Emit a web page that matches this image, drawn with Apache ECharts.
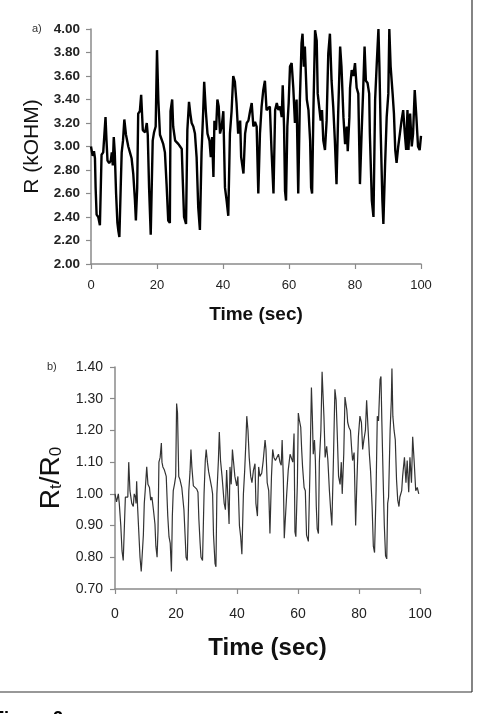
<!DOCTYPE html>
<html>
<head>
<meta charset="utf-8">
<script src="https://cdn.jsdelivr.net/npm/echarts@6/dist/echarts.min.js"></script>
<style>
html,body{margin:0;padding:0;background:#fff;}
#c{width:486px;height:714px;}
</style>
</head>
<body>
<div id="c"></div>
<script>
// ---- Panel a: resistance R (kOHM) vs time (sec) ----
var timeA = [0.0,0.5,0.9,1.2,1.4,1.7,2.2,2.7,3.2,3.7,4.0,4.4,4.7,5.0,5.5,6.0,6.3,6.6,6.9,7.2,7.6,8.0,8.3,8.6,9.0,9.3,9.7,10.1,10.6,11.3,11.8,12.3,12.8,13.3,13.6,14.0,14.3,14.8,15.2,15.7,16.4,16.9,17.2,17.6,18.1,18.7,19.1,19.6,20.0,20.4,20.9,21.9,22.4,22.9,23.4,23.9,24.1,24.6,24.9,25.5,26.5,27.0,27.5,27.8,28.2,28.8,29.2,29.7,30.1,30.5,31.0,31.5,32.0,32.5,33.0,33.5,34.0,34.3,34.8,35.3,35.9,36.3,36.7,37.1,37.4,37.9,38.3,38.7,39.1,39.6,40.1,40.6,41.1,41.6,42.1,42.6,43.1,43.6,44.1,44.6,45.2,45.5,46.2,46.7,47.2,47.7,48.2,48.7,49.2,49.7,50.2,50.7,51.2,51.7,52.2,52.7,53.2,53.7,54.2,54.7,55.3,55.8,56.3,56.8,57.3,57.8,58.1,58.5,58.8,59.1,59.5,59.9,60.3,60.8,61.3,61.8,62.3,62.8,63.3,63.8,64.1,64.5,64.8,65.4,65.9,66.4,66.7,67.0,67.4,67.9,68.4,68.7,69.2,69.6,70.0,70.4,70.9,71.4,71.9,72.4,72.9,73.4,73.9,74.4,74.9,75.5,75.9,76.5,77.0,77.5,77.8,78.3,78.5,79.0,79.5,80.0,80.5,81.0,81.5,82.0,82.5,82.9,83.3,83.8,84.3,84.5,85.1,85.6,86.1,86.6,87.1,87.4,87.8,88.3,88.6,89.1,89.6,90.1,90.4,90.8,91.4,91.8,92.2,92.6,93.1,93.6,94.1,94.6,95.1,95.5,95.9,96.2,96.7,97.2,97.6,98.1,98.6,99.1,99.6,100.0];
var resistanceA = [3.00,2.92,2.96,2.90,2.65,2.42,2.40,2.33,2.93,2.95,2.96,3.25,3.05,2.88,2.86,2.88,2.95,2.84,3.08,2.95,2.60,2.35,2.28,2.23,2.65,2.95,3.05,3.23,3.10,3.00,2.95,2.90,2.77,2.55,2.37,2.65,3.28,3.30,3.44,3.14,3.12,3.20,3.10,2.65,2.25,3.05,3.12,3.17,3.82,3.40,3.10,3.02,2.95,2.68,2.37,2.35,3.30,3.40,3.17,3.05,3.02,3.00,2.98,2.72,2.40,2.34,3.14,3.38,3.28,3.20,3.17,3.11,2.91,2.48,2.29,2.95,3.30,3.55,3.30,3.11,3.05,2.91,3.08,2.74,3.22,3.14,3.40,3.34,3.11,3.17,3.30,2.65,2.54,2.41,3.11,3.30,3.60,3.55,3.37,3.11,3.22,2.91,2.77,3.11,3.20,3.22,3.30,3.37,3.17,3.21,3.17,2.60,3.11,3.34,3.48,3.56,3.31,3.31,3.34,2.97,2.60,3.31,3.37,3.31,3.34,3.25,3.52,3.17,2.62,2.54,3.17,3.37,3.68,3.71,3.50,3.20,3.40,2.60,3.40,3.88,3.96,3.68,3.85,3.40,3.31,3.05,2.65,2.60,3.31,3.99,3.90,3.45,3.45,3.22,3.31,3.05,2.97,3.22,3.79,3.96,3.56,3.34,3.05,2.68,3.28,3.85,3.68,3.25,3.02,3.17,2.96,3.25,3.50,3.65,3.60,3.71,3.50,3.45,2.68,3.11,3.50,3.85,3.56,3.54,3.45,3.11,2.54,2.40,3.40,3.71,4.00,3.68,3.11,2.54,2.34,2.83,3.25,3.45,4.00,3.68,3.45,3.28,2.97,2.86,3.00,3.11,3.22,3.31,3.11,2.97,3.31,2.97,3.28,3.00,3.11,3.48,3.25,3.00,2.97,3.09];

// ---- Panel b: normalised resistance Rt/R0 vs time (sec) ----
var timeB = [0.0,0.5,1.1,1.4,1.9,2.3,2.7,3.2,3.4,3.8,4.2,4.5,4.9,5.5,6.0,6.3,6.7,6.9,7.1,7.4,7.8,8.2,8.6,9.1,9.3,9.6,9.9,10.4,10.8,11.3,11.7,12.1,12.6,13.1,13.4,13.8,14.1,14.4,14.8,15.2,15.4,15.7,16.2,16.5,16.8,17.3,17.7,18.1,18.5,18.8,19.1,19.5,19.9,20.2,20.5,20.9,21.3,21.9,22.2,22.6,23.0,23.3,23.7,24.2,24.6,24.9,25.2,25.7,26.2,26.8,27.2,27.5,27.9,28.2,28.7,29.2,29.6,29.9,30.3,30.7,31.1,31.7,32.0,32.3,32.8,33.1,33.4,33.9,34.2,34.6,35.1,35.5,35.8,36.2,36.6,37.0,37.4,37.7,38.1,38.5,38.8,39.3,39.9,40.3,40.8,41.2,41.6,42.1,42.5,42.9,43.2,43.6,44.0,44.5,44.9,45.4,45.9,46.2,46.7,47.1,47.5,48.1,48.6,49.2,49.5,49.9,50.4,50.8,51.3,51.7,52.1,52.6,53.0,53.6,54.1,54.5,54.8,55.2,55.5,56.0,56.3,56.8,57.4,57.8,58.3,58.7,59.0,59.3,59.8,60.1,60.4,60.9,61.2,61.5,62.0,62.4,62.8,63.4,63.9,64.4,64.7,65.0,65.4,65.7,66.0,66.3,66.7,67.0,67.5,67.9,68.2,68.5,68.9,69.4,69.8,70.3,70.7,71.1,71.6,72.1,72.5,72.9,73.3,73.8,74.2,74.5,75.0,75.4,76.0,76.3,76.7,77.2,77.6,77.9,78.4,78.9,79.3,79.8,80.3,80.8,81.2,81.6,82.1,82.5,83.0,83.4,83.8,84.3,84.7,85.1,85.6,86.0,86.4,86.9,87.2,87.5,87.9,88.3,88.7,89.1,89.4,89.7,90.2,90.6,90.8,91.1,91.5,91.9,92.3,92.7,93.1,93.4,94.0,94.3,94.9,95.4,95.8,96.3,96.7,97.2,97.6,98.1,98.6,99.1,99.6];
var ratioB = [1.00,0.975,1.00,0.97,0.90,0.82,0.79,0.79,0.99,0.995,0.99,1.10,1.01,0.97,0.96,1.00,0.99,0.97,1.04,0.96,0.88,0.80,0.755,0.755,0.87,0.97,1.01,1.085,1.03,1.02,0.98,0.99,0.95,0.905,0.835,0.80,0.885,1.10,1.115,1.16,1.10,1.085,1.075,1.08,1.055,0.93,0.865,0.845,0.755,0.93,1.01,1.03,1.055,1.285,1.255,1.055,1.045,1.02,0.99,0.95,0.865,0.80,0.79,1.01,1.07,1.14,1.085,1.025,1.02,1.015,1.005,0.92,0.845,0.80,0.79,1.00,1.105,1.14,1.10,1.07,1.065,1.02,1.00,0.87,0.78,0.77,1.00,1.105,1.195,1.105,1.055,1.055,0.97,0.95,1.075,0.99,0.905,1.085,1.03,1.14,1.135,1.055,1.025,1.055,0.90,0.865,0.81,1.00,1.07,1.16,1.245,1.20,1.115,1.055,1.035,1.075,1.095,0.97,0.93,1.085,1.055,1.065,1.105,1.17,1.14,1.035,1.01,0.875,1.055,1.14,1.115,1.105,1.10,1.125,1.10,1.09,1.17,1.045,0.86,0.865,1.00,1.075,1.125,1.13,1.10,1.19,0.88,0.865,1.035,1.255,1.235,1.21,1.14,1.085,1.02,1.01,0.87,0.85,1.065,1.335,1.245,1.125,1.17,1.105,0.96,0.89,0.875,1.10,1.20,1.385,1.315,1.245,1.115,1.15,1.105,1.01,0.95,0.90,1.10,1.33,1.295,1.18,1.055,1.03,1.10,1.00,1.125,1.305,1.265,1.225,1.21,1.20,1.14,1.105,1.13,0.90,1.035,1.18,1.245,1.225,1.14,1.17,1.20,1.295,1.20,1.125,1.07,0.96,0.835,0.815,1.01,1.245,1.23,1.36,1.37,1.225,1.055,0.90,0.805,0.795,0.97,0.99,1.20,1.295,1.395,1.245,1.20,1.17,1.045,0.98,0.96,0.99,1.01,1.055,1.115,1.035,1.105,1.005,1.115,1.035,1.18,1.10,1.01,1.02,1.00];

var xTicks = [0, 20, 40, 60, 80, 100];

var FONT = '"Liberation Sans", Arial, sans-serif';
function pairs(xs, ys) { return xs.map(function (x, i) { return [x, ys[i]]; }); }

var chart = echarts.init(document.getElementById('c'), null, { renderer: 'canvas' });

var axisGray = '#8a8a8a';
function xAxisCfg(gridIndex, labelSize, nameSize, nameGap, labelMargin) {
  return {
    gridIndex: gridIndex, type: 'value', min: 0, max: 100, interval: 20,
    axisLine: { show: true, onZero: false, lineStyle: { color: axisGray, width: 1.5 } },
    axisTick: { show: true, inside: false, length: 5, lineStyle: { color: axisGray, width: 1.2 } },
    splitLine: { show: false },
    axisLabel: { fontFamily: FONT, fontSize: labelSize, color: '#222', margin: labelMargin },
    name: 'Time (sec)', nameLocation: 'middle', nameGap: nameGap,
    nameTextStyle: { fontFamily: FONT, fontSize: nameSize, fontWeight: 'bold', color: '#111' }
  };
}

var option = {
  backgroundColor: '#ffffff',
  animation: false,
  grid: [
    { left: 91, top: 29, width: 330, height: 235 },
    { left: 115, top: 367, width: 305, height: 222 }
  ],
  xAxis: [
    xAxisCfg(0, 13, 19, 41, 15),
    xAxisCfg(1, 14, 24, 47, 18)
  ],
  yAxis: [
    {
      gridIndex: 0, type: 'value', min: 2.0, max: 4.0, interval: 0.2,
      axisLine: { show: true, lineStyle: { color: axisGray, width: 1.5 } },
      axisTick: { show: true, inside: false, length: 5, lineStyle: { color: axisGray, width: 1.2 } },
      splitLine: { show: false },
      axisLabel: { fontFamily: FONT, fontSize: 13.5, fontWeight: 'bold', color: '#222', margin: 11,
        formatter: function (v) { return v.toFixed(2); } },
      name: 'R (kOHM)', nameLocation: 'middle', nameGap: 44,
      nameTextStyle: { fontFamily: FONT, fontSize: 21, color: '#111' }
    },
    {
      gridIndex: 1, type: 'value', min: 0.7, max: 1.4, interval: 0.1,
      axisLine: { show: true, lineStyle: { color: axisGray, width: 1.5 } },
      axisTick: { show: true, inside: false, length: 5, lineStyle: { color: axisGray, width: 1.2 } },
      splitLine: { show: false },
      axisLabel: { fontFamily: FONT, fontSize: 14, color: '#222', margin: 12,
        formatter: function (v) { return v.toFixed(2); } },
      name: '{r|R}{s|t}{r|/R}{s|0}', nameLocation: 'middle', nameGap: 47,
      nameTextStyle: {
        fontFamily: FONT, color: '#111',
        rich: {
          r: { fontFamily: FONT, fontSize: 28, lineHeight: 34, color: '#111', verticalAlign: 'bottom' },
          s: { fontFamily: FONT, fontSize: 17, lineHeight: 18, color: '#111', verticalAlign: 'bottom' }
        }
      }
    }
  ],
  series: [
    {
      type: 'line', xAxisIndex: 0, yAxisIndex: 0, data: pairs(timeA, resistanceA),
      showSymbol: false, symbol: 'none', clip: true,
      lineStyle: { color: '#000', width: 2.4 }
    },
    {
      type: 'line', xAxisIndex: 1, yAxisIndex: 1, data: pairs(timeB, ratioB),
      showSymbol: false, symbol: 'none', clip: true,
      lineStyle: { color: '#333', width: 1.2 }
    }
  ],
  graphic: [
    { type: 'text', left: 32, top: 23, style: { text: 'a)', font: '11px ' + FONT, fill: '#333' } },
    { type: 'text', left: 47, top: 361, style: { text: 'b)', font: '11px ' + FONT, fill: '#333' } },
    { type: 'line', shape: { x1: 472, y1: 0, x2: 472, y2: 692 }, style: { stroke: '#333', lineWidth: 1.2 } },
    { type: 'line', shape: { x1: 0, y1: 692, x2: 472, y2: 692 }, style: { stroke: '#333', lineWidth: 1.2 } },
    { type: 'text', left: -7, top: 710, style: { text: 'Figure 2', font: 'bold 18px ' + FONT, fill: '#000' } }
  ]
};
chart.setOption(option);
</script>
</body>
</html>
